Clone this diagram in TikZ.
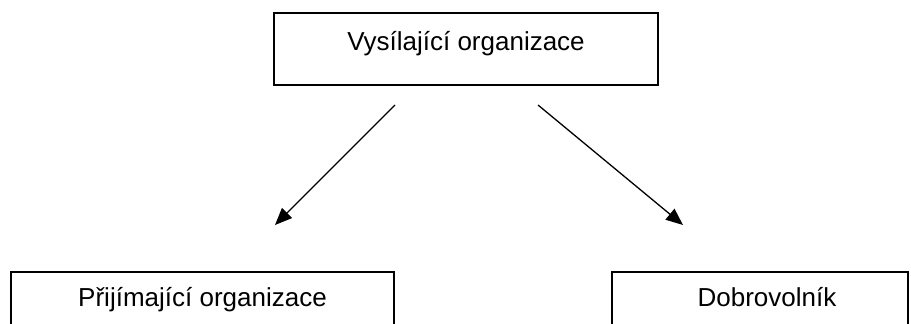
\documentclass[tikz,border=0pt]{standalone}
\usepackage{fontspec}
\setmainfont{Liberation Sans}
\usetikzlibrary{arrows.meta}
\begin{document}
\begin{tikzpicture}[x=1pt,y=-1pt,
  box/.style={draw, line width=2pt, inner sep=0pt, font=\fontsize{26}{30}\selectfont, text height=18.6pt},
  arr/.style={line width=1.3pt, -{Triangle[length=17pt,width=14pt]}}]
\clip (0,0) rectangle (911,324);
\node[box, minimum width=384pt, minimum height=72.5pt, text depth=16.1pt] (send) at (466,48.75) {Vysílající organizace};
\node[box, minimum width=383pt, minimum height=72.5pt, text depth=21.7pt] (recv) at (202.5,308.25) {Přijímající organizace};
\node[box, minimum width=296pt, minimum height=72.5pt, text depth=21.7pt] (vol) at (760,308.25) {\hspace*{14pt}Dobrovolník};
\coordinate (s1) at (395,105);
\coordinate (t1) at (275,225);
\coordinate (s2) at (538,105);
\coordinate (t2) at (683,225);
\draw[arr] (s1) -- (t1);
\draw[arr] (s2) -- (t2);
\end{tikzpicture}
\end{document}
